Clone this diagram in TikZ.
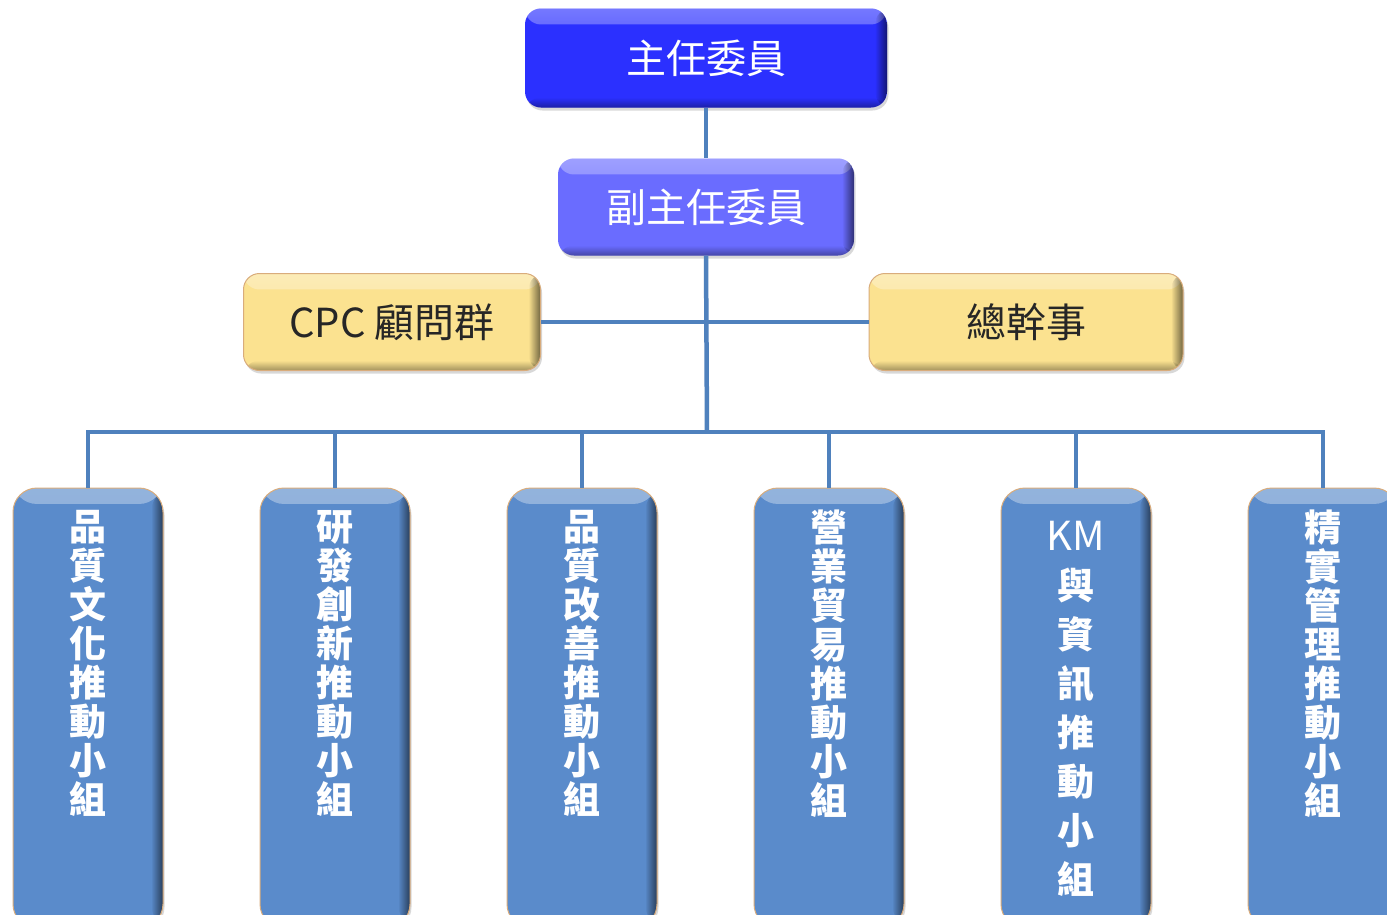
\documentclass[tikz,border=0pt]{standalone}
\usepackage{fontspec}
\setmainfont{Noto Sans CJK TC}
\usetikzlibrary{shadows,fadings}
\definecolor{connc}{HTML}{4F81BD}
\definecolor{chiefc}{HTML}{2B30FF}
\definecolor{subc}{HTML}{6A6CFF}
\definecolor{goldc}{HTML}{FBE290}
\definecolor{groupc}{HTML}{5A8BCB}
\definecolor{tanc}{HTML}{D9AC7C}
\definecolor{darktext}{HTML}{262626}
\tikzset{
  bevel/.style={path picture={
    \fill[white,opacity=0.35,path fading=south]
      (path picture bounding box.north west) rectangle
      ([yshift=-16pt]path picture bounding box.north east);
    \fill[black,opacity=0.55,path fading=west]
      ([xshift=-12pt]path picture bounding box.north east) rectangle
      (path picture bounding box.south east);
    \fill[black,opacity=0.35,path fading=north]
      ([yshift=10pt]path picture bounding box.south west) rectangle
      (path picture bounding box.south east);
  }},
  boxbase/.style={rectangle, inner sep=0pt, bevel,
    drop shadow={opacity=0.3, shadow xshift=1.5pt, shadow yshift=-3pt}},
  chiefbox/.style={boxbase, rounded corners=16pt, fill=chiefc, text=white,
    font=\fontsize{40}{44}\selectfont},
  subbox/.style={boxbase, rounded corners=16pt, fill=subc, text=white,
    font=\fontsize{40}{44}\selectfont},
  goldbox/.style={boxbase, rounded corners=16pt, fill=goldc, draw=tanc,
    line width=1pt, text=darktext, font=\fontsize{40}{44}\selectfont},
  groupbox/.style={boxbase, rounded corners=24pt, fill=groupc, draw=tanc,
    line width=1pt, minimum width=150pt, minimum height=440pt},
  vtext/.style={align=center, inner sep=0pt, text=white, anchor=north,
    font=\fontsize{37}{39}\selectfont\bfseries},
  connline/.style={draw=connc, line width=4.5pt},
}
\begin{document}
\begin{tikzpicture}[x=1pt,y=-1pt]
\clip (0,0) rectangle (1387,914);
\fill[white] (0,0) rectangle (1387,914);

\coordinate (bus) at (707,432);
\coordinate (chiefpos) at (706,58);
\coordinate (subpos) at (706,207);

\node[chiefbox, minimum width=362pt, minimum height=99pt] (chief) at (chiefpos) {主任委員};
\node[subbox, minimum width=296pt, minimum height=97pt] (sub) at (subpos) {副主任委員};
\node[goldbox, minimum width=297pt, minimum height=97pt] (cpc) at (392,322) {CPC 顧問群};
\node[goldbox, minimum width=314pt, minimum height=97pt] (gs) at (1026,322) {總幹事};

\node[groupbox] (g1) at (88,708) {};
\node[groupbox] (g2) at (335,708) {};
\node[groupbox] (g3) at (582,708) {};
\node[groupbox] (g4) at (829,708) {};
\node[groupbox] (g5) at (1076,708) {};
\node[groupbox] (g6) at (1323,708) {};

\node[vtext] (t1) at (88,510) {品\\質\\文\\化\\推\\動\\小\\組};
\node[vtext] (t2) at (335,510) {研\\發\\創\\新\\推\\動\\小\\組};
\node[vtext] (t3) at (582,510) {品\\質\\改\\善\\推\\動\\小\\組};
\node[vtext] (t4) at (829,510) {營\\業\\貿\\易\\推\\動\\小\\組};
\node[vtext, font=\fontsize{37}{49}\selectfont\bfseries] (t5) at (1076,521)
  {{\fontsize{40}{49}\selectfont\mdseries KM}\\與\\資\\訊\\推\\動\\小\\組};
\node[vtext] (t6) at (1323,510) {精\\實\\管\\理\\推\\動\\小\\組};

\draw[connline] (chief) -- (sub);
\draw[connline] (sub.south) -- (bus);
\draw[connline] (cpc.east) -- (gs.west);
\foreach \i in {1,...,6}{
  \draw[connline] (bus) -| (g\i.north);
}
\end{tikzpicture}
\end{document}
